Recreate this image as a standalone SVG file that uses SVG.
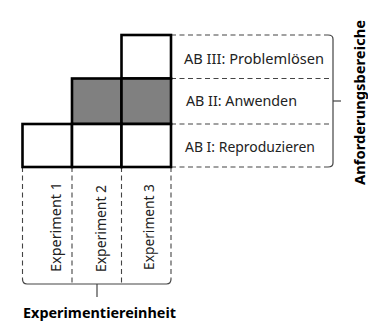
<svg xmlns="http://www.w3.org/2000/svg" width="368" height="322" viewBox="0 0 368 322">
<style>
.cell{stroke:#000;stroke-width:2.6;}
.w{fill:#fff;}
.g{fill:#808080;}
.dash{fill:none;stroke:#444;stroke-width:1.1;stroke-dasharray:5 3.5;}
.br{fill:none;stroke:#444;stroke-width:1.2;}
.lbl{font-family:"Noto Sans","Liberation Sans",sans-serif;font-size:13.5px;fill:#222;}
.ttl{font-family:"Noto Sans","Liberation Sans",sans-serif;font-size:13.5px;font-weight:bold;fill:#000;}
</style>
<rect width="368" height="322" fill="#fff"/>
<g id="connectors">
<path class="dash" d="M171 35 H328"/>
<path class="dash" d="M171 78.5 H330"/>
<path class="dash" d="M171 124 H330"/>
<path class="dash" d="M171 167 H328"/>
<path class="br" d="M328 35 Q333 35 333 39 V163 Q333 167 328 167"/>
<path class="br" d="M333 101 H341"/>
<path class="dash" d="M22.5 167 V279"/>
<path class="dash" d="M72 167 V284"/>
<path class="dash" d="M121.5 167 V284"/>
<path class="dash" d="M171 167 V279"/>
<path class="br" d="M22.5 279 Q22.5 284 27 284 H166.5 Q171 284 171 279"/>
<path class="br" d="M97 284 V297"/>
</g>
<g id="cell-r1-c3"><rect class="cell w" x="121.5" y="35" width="49.5" height="43.5"/></g>
<g id="cell-r2-c2"><rect class="cell g" x="72" y="78.5" width="49.5" height="45.5"/></g>
<g id="cell-r2-c3"><rect class="cell g" x="121.5" y="78.5" width="49.5" height="45.5"/></g>
<g id="cell-r3-c1"><rect class="cell w" x="22.5" y="124" width="49.5" height="43"/></g>
<g id="cell-r3-c2"><rect class="cell w" x="72" y="124" width="49.5" height="43"/></g>
<g id="cell-r3-c3"><rect class="cell w" x="121.5" y="124" width="49.5" height="43"/></g>
<g id="ab3"><text class="lbl" x="184" y="64" textLength="140" lengthAdjust="spacingAndGlyphs">AB III: Problemlösen</text></g>
<g id="ab2"><text class="lbl" x="186" y="106" textLength="111" lengthAdjust="spacingAndGlyphs">AB II: Anwenden</text></g>
<g id="ab1"><text class="lbl" x="185" y="152" textLength="130" lengthAdjust="spacingAndGlyphs">AB I: Reproduzieren</text></g>
<g id="exp1"><text class="lbl" transform="translate(60.5 272) rotate(-90)" textLength="90" lengthAdjust="spacingAndGlyphs">Experiment 1</text></g>
<g id="exp2"><text class="lbl" transform="translate(106 272) rotate(-90)" textLength="87" lengthAdjust="spacingAndGlyphs">Experiment 2</text></g>
<g id="exp3"><text class="lbl" transform="translate(154 270) rotate(-90)" textLength="86" lengthAdjust="spacingAndGlyphs">Experiment 3</text></g>
<g id="anforderungsbereiche"><text class="ttl" transform="translate(364.5 185) rotate(-90)" textLength="165" lengthAdjust="spacingAndGlyphs">Anforderungsbereiche</text></g>
<g id="experimentiereinheit"><text class="ttl" x="23" y="318" textLength="153" lengthAdjust="spacingAndGlyphs">Experimentiereinheit</text></g>
</svg>
